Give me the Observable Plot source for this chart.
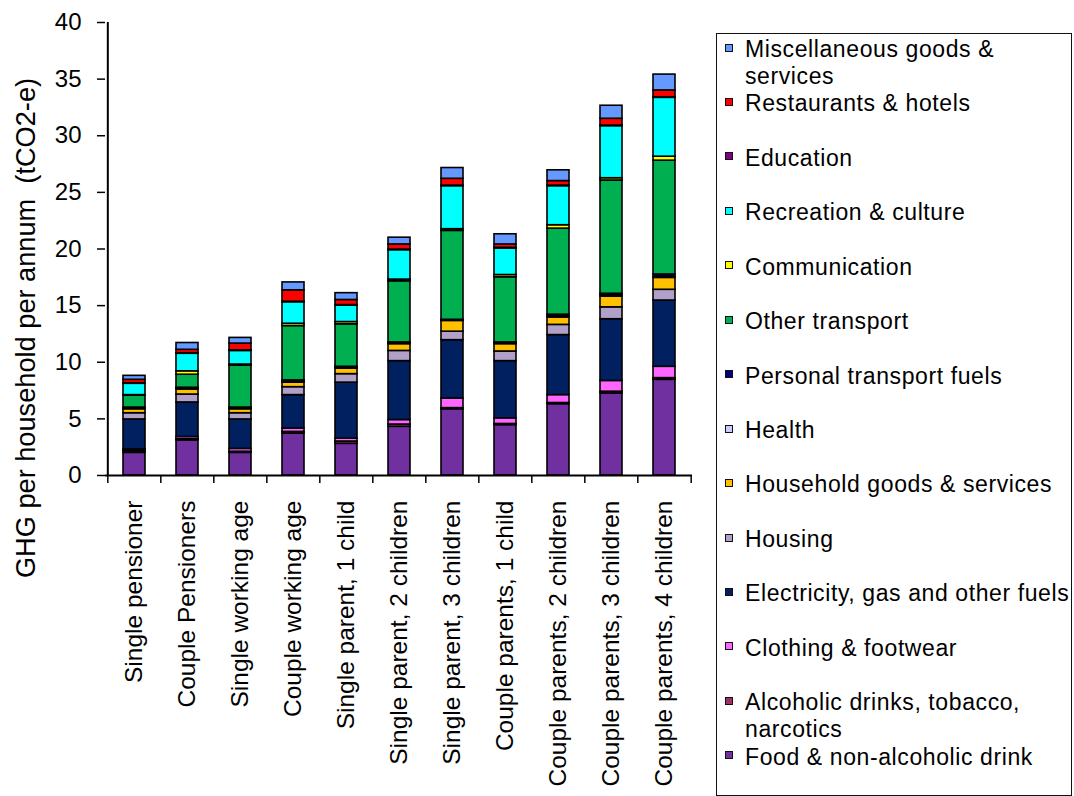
<!DOCTYPE html>
<html>
<head>
<meta charset="utf-8">
<script src="https://cdn.jsdelivr.net/npm/d3@7"></script>
<script src="https://cdn.jsdelivr.net/npm/@observablehq/plot@0.6"></script>
<style>
  body { margin: 0; background: #fff; }
  #wrap { position: relative; width: 1074px; height: 796px; overflow: hidden; font-family: "Liberation Sans", Arial, sans-serif; color: #000; }
  #wrap svg { position: absolute; left: 0; top: 0; }
  svg text { white-space: pre; }
  #legendBox { position: absolute; left: 715.5px; top: 33px; width: 356px; height: 763px; border: 1.5px solid #111; box-sizing: border-box; }
  .lg-sw { position: absolute; width: 6px; height: 6px; border: 1px solid #111; }
  .lg-tx { position: absolute; font-size: 23px; line-height: 27px; letter-spacing: 0.6px; white-space: pre; }
</style>
</head>
<body>
<div id="wrap"></div>
<script>
// Categories (x axis)
const households = [
  "Single pensioner", "Couple Pensioners", "Single working age", "Couple working age",
  "Single parent, 1 child", "Single parent, 2 children", "Single parent, 3 children",
  "Couple parents, 1 child", "Couple parents, 2 children", "Couple parents, 3 children",
  "Couple parents, 4 children"
];

// Series, stacked from bottom to top
const seriesNames = [
  "Food & non-alcoholic drink", "Alcoholic drinks, tobacco, narcotics", "Clothing & footwear",
  "Electricity, gas and other fuels", "Housing", "Household goods & services", "Health",
  "Personal transport fuels", "Other transport", "Communication", "Recreation & culture",
  "Education", "Restaurants & hotels", "Miscellaneous goods & services"
];
const seriesColors = [
  "#7030A0", "#993366", "#FF66FF", "#002060", "#B1A0C7", "#FFC000", "#CCCCFF",
  "#000080", "#00B050", "#FFFF00", "#00FFFF", "#800080", "#FF0000", "#6699FF"
];

// Values, tCO2-e per household per annum (one array per series, in household order)
const food          = [2.0, 3.1, 2.0, 3.7, 2.8, 4.3, 5.85, 4.45, 6.3, 7.25, 8.45];
const alcohol       = [0.15, 0.1, 0.1, 0.15, 0.2, 0.2, 0.1, 0.1, 0.1, 0.15, 0.15];
const clothing      = [0.15, 0.2, 0.25, 0.3, 0.25, 0.4, 0.85, 0.5, 0.7, 0.95, 1.0];
const electricity   = [2.65, 3.05, 2.6, 2.95, 4.95, 5.2, 5.15, 5.05, 5.3, 5.45, 5.85];
const housing       = [0.55, 0.7, 0.55, 0.7, 0.75, 0.9, 0.75, 0.85, 0.9, 1.05, 0.95];
const householdGoods= [0.35, 0.45, 0.35, 0.4, 0.5, 0.6, 0.95, 0.65, 0.65, 0.95, 1.05];
const health        = [0.05, 0.05, 0.05, 0.05, 0.05, 0.05, 0.05, 0.05, 0.1, 0.1, 0.1];
const transportFuel = [0.1, 0.1, 0.1, 0.15, 0.1, 0.1, 0.05, 0.1, 0.15, 0.15, 0.2];
const otherTransport= [1.05, 1.15, 3.7, 4.8, 3.75, 5.4, 7.85, 5.75, 7.6, 10.0, 10.05];
const communication = [0.05, 0.3, 0.1, 0.2, 0.2, 0.15, 0.15, 0.2, 0.3, 0.2, 0.35];
const recreation    = [1.0, 1.55, 1.2, 1.9, 1.45, 2.6, 3.8, 2.35, 3.45, 4.6, 5.2];
const education     = [0.05, 0.05, 0.05, 0.05, 0.05, 0.05, 0.05, 0.05, 0.05, 0.05, 0.05];
const restaurants   = [0.3, 0.3, 0.6, 1.0, 0.45, 0.45, 0.6, 0.3, 0.4, 0.6, 0.6];
const misc          = [0.35, 0.6, 0.5, 0.7, 0.6, 0.6, 0.95, 0.9, 0.95, 1.15, 1.4];

const seriesValues = [food, alcohol, clothing, electricity, housing, householdGoods, health,
  transportFuel, otherTransport, communication, recreation, education, restaurants, misc];

// Y ticks
const yTicks = [0, 5, 10, 15, 20, 25, 30, 35, 40];

// Legend (top to bottom) with explicit line breaks
const legendLabels = [
  "Miscellaneous goods &\nservices", "Restaurants & hotels", "Education", "Recreation & culture",
  "Communication", "Other transport", "Personal transport fuels", "Health",
  "Household goods & services", "Housing", "Electricity, gas and other fuels",
  "Clothing & footwear", "Alcoholic drinks, tobacco,\nnarcotics", "Food & non-alcoholic drink"
];
const yTitle = "GHG per household per annum  (tCO2-e)";

// Build table
const rows = [];
seriesNames.forEach((s, si) => {
  households.forEach((h, hi) => rows.push({household: h, series: s, value: seriesValues[si][hi]}));
});

const W = 1074, H = 796, mL = 105, mR = 382, mT = 22, mB = 321;
const step = (W - mL - mR) / households.length;

const chart = Plot.plot({
  width: W, height: H,
  marginLeft: mL, marginRight: mR, marginTop: mT, marginBottom: mB,
  style: {fontFamily: "'Liberation Sans', Arial, sans-serif", fontSize: "24.5px", color: "#000", background: "transparent", overflow: "visible"},
  x: {domain: households, paddingInner: 0.59, paddingOuter: 0.295, label: null},
  y: {domain: [0, 40], label: null},
  color: {domain: seriesNames, range: seriesColors},
  marks: [
    Plot.barY(rows, {x: "household", y: "value", fill: "series", stroke: "#000", strokeWidth: 1.6}),
    Plot.axisY({ticks: yTicks, tickSize: 8, tickPadding: 16, fontSize: 24, label: null, strokeWidth: 1.5}),
    Plot.axisX({tickSize: 0, tickRotate: -90, tickPadding: 25, fontSize: 24.5, label: null}),
    Plot.ruleY([0], {stroke: "#000", strokeWidth: 2}),
    Plot.ruleX([households[0]], {y1: 0, y2: 40, dx: -step / 2, stroke: "#000", strokeWidth: 2}),
    Plot.ruleX(households, {y1: 0, y2: 0, dx: -step / 2, insetBottom: -8, stroke: "#000", strokeWidth: 1.5}),
    Plot.ruleX([households[households.length - 1]], {y1: 0, y2: 0, dx: step / 2, insetBottom: -8, stroke: "#000", strokeWidth: 1.5})
  ]
});

const wrap = document.getElementById("wrap");
wrap.appendChild(chart);

// Y axis title
d3.select(chart).append("text")
  .attr("transform", "translate(35,328) rotate(-90)")
  .attr("text-anchor", "middle")
  .attr("font-size", 27.2)
  .attr("fill", "#000")
  .text(yTitle);

// Legend
const box = document.createElement("div");
box.id = "legendBox";
wrap.appendChild(box);
const legendColors = seriesColors.slice().reverse();
legendLabels.forEach((lab, i) => {
  const b = 57.3 + i * 54.45;
  const sw = document.createElement("div");
  sw.className = "lg-sw";
  sw.style.left = "725px";
  sw.style.top = (b - 13.8) + "px";
  sw.style.background = legendColors[i];
  wrap.appendChild(sw);
  const tx = document.createElement("div");
  tx.className = "lg-tx";
  tx.style.left = "745px";
  tx.style.top = (b - 21.5) + "px";
  tx.textContent = lab;
  wrap.appendChild(tx);
});
</script>
</body>
</html>
